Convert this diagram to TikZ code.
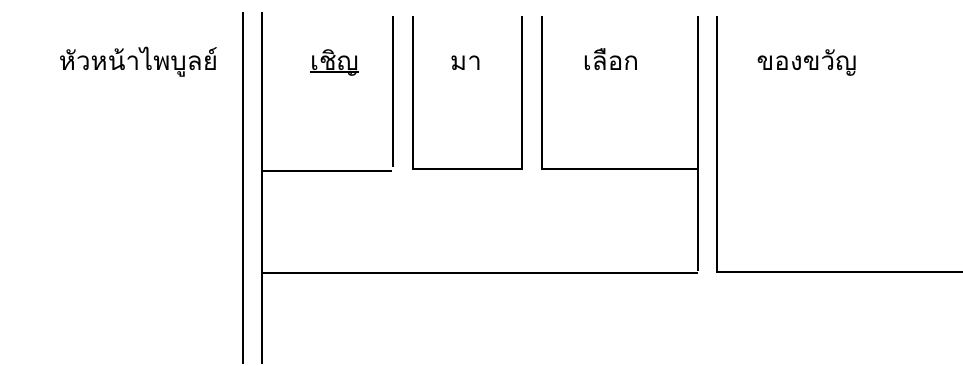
\documentclass[tikz,border=0pt]{standalone}
\usepackage{fontspec}
\newfontfamily\thaifont[Script=Thai]{Loma}
\tikzset{
  rule/.style={line width=2pt, line cap=butt},
  word/.style={font=\thaifont\fontsize{26}{30}\selectfont, inner sep=0pt, anchor=base},
}
\begin{document}
\begin{tikzpicture}[x=1pt,y=-1pt]
\useasboundingbox (0,0) rectangle (963,365);
% texts
\node[word] (head) at (138.5,70) {หัวหน้าไพบูลย์};
\node[word] (invite) at (334.5,70) {เชิญ};
\node[word] (come) at (466,70) {มา};
\node[word] (choose) at (611,70) {เลือก};
\node[word] (gift) at (807,70) {ของขวัญ};
% underline of invite
\draw[line width=1.4pt] ([yshift=-2pt]invite.base west) -- ([yshift=-2pt]invite.base east);
% coordinates
\coordinate (L1t) at (243,12);  \coordinate (L1b) at (243,364);
\coordinate (L2t) at (261.5,12); \coordinate (L2b) at (261.5,364);
% invite box
\coordinate (A) at (392.5,16); \coordinate (Ab) at (392.5,167);
\coordinate (Ai) at (261.5,171.3); \coordinate (Ae) at (392,171.3);
% come box
\coordinate (B1) at (413,16); \coordinate (B2) at (413,169); \coordinate (B3) at (521.7,169); \coordinate (B4) at (521.7,16);
% choose box
\coordinate (C1) at (542.3,16); \coordinate (C2) at (542.3,169.3); \coordinate (C3) at (697.5,169.3);
\coordinate (Ct) at (697.5,16); \coordinate (Cb) at (697.5,270.5);
% big bottom line
\coordinate (D1) at (261.5,272.5); \coordinate (D2) at (697.5,272.5);
% gift column
\coordinate (E1) at (716.7,16); \coordinate (E2) at (716.7,272.3); \coordinate (E3) at (963,272.3);
\draw[rule] (L1t) -- (L1b);
\draw[rule] (L2t) -- (L2b);
\draw[rule] (A) -- (Ab);
\draw[rule] (Ai) -- (Ae);
\draw[rule] (B1) -- (B2) -- (B3) -- (B4);
\draw[rule] (C1) -- (C2) -- (C3);
\draw[rule] (Ct) -- (Cb);
\draw[rule] (D1) -- (D2);
\draw[rule] (E1) -- (E2) -- (E3);
\end{tikzpicture}
\end{document}
